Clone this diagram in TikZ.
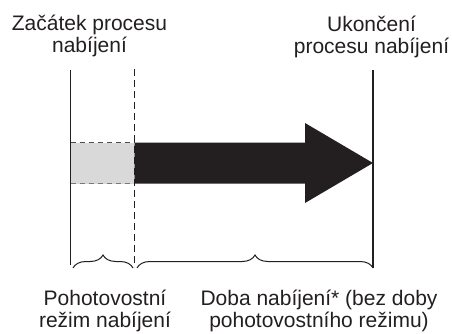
\documentclass[tikz,border=0pt]{standalone}
\usepackage{fontspec}
\setmainfont{Liberation Sans}
\usetikzlibrary{decorations.pathreplacing}
\definecolor{ink}{HTML}{231F20}
\definecolor{standby}{HTML}{D9D9DA}
\tikzset{
  label/.style={font=\fontsize{21}{21.5}\selectfont, text=ink, align=center, inner sep=0pt, anchor=base},
  timeline/.style={draw=ink, line width=1.2pt},
  dashline/.style={draw=ink, line width=1pt, dash pattern=on 7pt off 4pt},
  bracestyle/.style={draw=ink, line width=1pt, decorate, decoration={brace, amplitude=13pt}}
}
\begin{document}
\begin{tikzpicture}[x=1pt, y=-1pt]
\useasboundingbox (0,0) rectangle (452,333);
% time markers
\coordinate (startTop) at (70.7,70);
\coordinate (startBot) at (70.7,265);
\coordinate (standTop) at (134.5,69);
\coordinate (standBot) at (134.5,267);
\coordinate (endTop) at (373,70);
\coordinate (endBot) at (373,268);
% standby block
\fill[standby] (70.7,142.5) rectangle (134.5,183.5);
\draw[draw=ink!80, line width=0.9pt, dash pattern=on 5pt off 4pt] (70.7,142.5) -- (134.5,142.5);
\draw[draw=ink!60, line width=0.9pt, dash pattern=on 5pt off 4pt] (70.7,183.5) -- (134.5,183.5);
% charging arrow
\fill[ink] (134.5,142.5) -- (305,142.5) -- (305,123) -- (373,163) -- (305,203) -- (305,183.5) -- (134.5,183.5) -- cycle;
% vertical lines
\draw[timeline] (startTop) -- (startBot);
\draw[dashline] (standTop) -- (standBot);
\draw[timeline] (endTop) -- (endBot);
% braces
\draw[bracestyle] (73,268) -- (133,268);
\draw[bracestyle] (137,268) -- (endBot);
% labels
\node[label] (start) at (89.5,52) {Začátek procesu\\nabíjení};
\node[label] (finish) at (371.5,53) {Ukončení\\procesu nabíjení};
\node[label] (standbyLbl) at (105,327) {Pohotovostní\\režim nabíjení};
\node[label] (charge) at (319,327) {Doba nabíjení* (bez doby\\pohotovostního režimu)};
\end{tikzpicture}
\end{document}
